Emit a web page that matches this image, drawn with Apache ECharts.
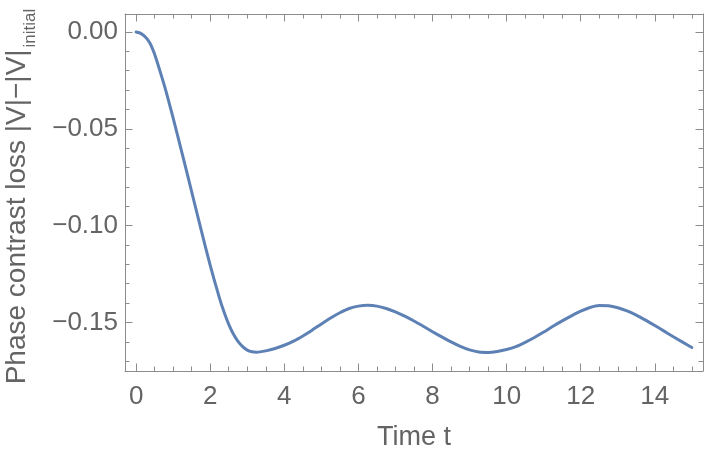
<!DOCTYPE html>
<html>
<head>
<meta charset="utf-8">
<script src="https://cdn.jsdelivr.net/npm/echarts@6/dist/echarts.min.js"></script>
<style>
html,body{margin:0;padding:0;background:#fff;}
#chart{width:706px;height:459px;}
</style>
</head>
<body>
<div id="chart"></div>
<script>
// Data
var timeValues = [0,0.125,0.25,0.375,0.5,0.625,0.75,0.875,1,1.25,1.5,1.75,2,2.25,2.375,2.5,2.625,2.75,2.875,3,3.125,3.25,3.5,3.75,4,4.25,4.5,4.75,5,5.25,5.5,5.75,6,6.25,6.5,6.75,7,7.25,7.5,7.75,8,8.25,8.5,8.75,9,9.25,9.5,9.75,10,10.25,10.5,10.75,11,11.25,11.5,11.75,12,12.25,12.5,12.75,13,13.25,13.5,13.75,14,14.25,14.5,14.75,15];
var lossValues = [0,-0.0007,-0.0026,-0.0058,-0.0115,-0.0190,-0.0268,-0.0354,-0.0445,-0.0633,-0.0826,-0.1018,-0.1206,-0.1375,-0.1448,-0.1510,-0.1560,-0.1598,-0.1625,-0.1643,-0.1652,-0.1654,-0.1647,-0.1635,-0.1618,-0.1597,-0.1570,-0.1540,-0.1508,-0.1477,-0.1450,-0.1428,-0.1416,-0.1412,-0.1416,-0.1428,-0.1446,-0.1468,-0.1493,-0.1520,-0.1548,-0.1575,-0.1601,-0.1624,-0.1642,-0.1653,-0.1655,-0.1650,-0.1640,-0.1625,-0.1603,-0.1578,-0.1550,-0.1520,-0.1492,-0.1466,-0.1442,-0.1423,-0.1413,-0.1414,-0.1424,-0.1440,-0.1462,-0.1488,-0.1516,-0.1545,-0.1574,-0.1602,-0.1630];

var xMajorTicks = [0,2,4,6,8,10,12,14];
var xMinorTicks = [0.5,1,1.5,2.5,3,3.5,4.5,5,5.5,6.5,7,7.5,8.5,9,9.5,10.5,11,11.5,12.5,13,13.5,14.5,15];
var yMajorTicks = [0,-0.05,-0.10,-0.15];
var yMinorTicks = [-0.01,-0.02,-0.03,-0.04,-0.06,-0.07,-0.08,-0.09,-0.11,-0.12,-0.13,-0.14,-0.16,-0.17];

var xTitle = 'Time t';
var yTitleMain = 'Phase contrast loss |V|\u2212|V|';
var yTitleSub = 'initial';

var X_MIN = -0.3, X_MAX = 15.3, Y_MIN = -0.1751, Y_MAX = 0.0093;
var frameColor = '#8c8c8c';
var textColor = '#646464';
var fontFam = '"Liberation Sans", Arial, sans-serif';

function fmtY(v){
  if (Math.abs(v) < 1e-9) return '0.00';
  return (v < 0 ? '\u2212' : '') + Math.abs(v).toFixed(2);
}

function xAx(pos, major, withLabels){
  var a = {
    type:'value', position:pos, min:X_MIN, max:X_MAX, gridIndex:0,
    axisLine:{show: major, onZero:false, lineStyle:{color:frameColor, width:1}},
    axisTick:{show:true, inside:true, length: major?7.5:4.5, customValues: major?xMajorTicks:xMinorTicks, lineStyle:{color:frameColor, width:1}},
    axisLabel:{show: withLabels},
    splitLine:{show:false}
  };
  if (withLabels){
    a.axisLabel = {show:true, customValues:xMajorTicks, formatter:function(v){return String(v);}, color:textColor, fontSize:26, fontFamily:fontFam, margin:13};
    a.name = xTitle; a.nameLocation = 'middle'; a.nameGap = 53;
    a.nameTextStyle = {color:textColor, fontSize:27, fontFamily:fontFam};
  }
  return a;
}
function yAx(pos, major, withLabels){
  var a = {
    type:'value', position:pos, min:Y_MIN, max:Y_MAX, gridIndex:0,
    axisLine:{show: major, onZero:false, lineStyle:{color:frameColor, width:1}},
    axisTick:{show:true, inside:true, length: major?7.5:4.5, customValues: major?yMajorTicks:yMinorTicks, lineStyle:{color:frameColor, width:1}},
    axisLabel:{show: withLabels},
    splitLine:{show:false}
  };
  if (withLabels){
    a.axisLabel = {show:true, customValues:yMajorTicks, formatter:fmtY, color:textColor, fontSize:26, fontFamily:fontFam, margin:7};
    a.name = '{m|' + yTitleMain + '}{s|' + yTitleSub + '}';
    a.nameLocation = 'middle'; a.nameGap = 90;
    a.nameTextStyle = {color:textColor, fontFamily:fontFam, padding:[0,8,0,0],
      rich:{
        m:{fontSize:28, color:textColor, fontFamily:fontFam, lineHeight:32, verticalAlign:'top'},
        s:{fontSize:17, color:textColor, fontFamily:fontFam, lineHeight:17, padding:[19,0,0,2], verticalAlign:'top'}
      }};
  }
  return a;
}

var seriesData = timeValues.map(function(t,i){ return [t, lossValues[i]]; });

var chart = echarts.init(document.getElementById('chart'), null, {renderer:'canvas'});
chart.setOption({
  backgroundColor:'#ffffff',
  animation:false,
  grid:{left:125, top:14, right:3, bottom:88, containLabel:false, outerBoundsMode:'none'},
  xAxis:[ xAx('bottom', true, true), xAx('bottom', false, false), xAx('top', true, false), xAx('top', false, false) ],
  yAxis:[ yAx('left', true, true), yAx('left', false, false), yAx('right', true, false), yAx('right', false, false) ],
  series:[{
    type:'line', xAxisIndex:0, yAxisIndex:0, data:seriesData,
    showSymbol:false, smooth:0.2, clip:false,
    lineStyle:{color:'#5e81b5', width:3, cap:'round', join:'round'}
  }]
});
</script>
</body>
</html>
